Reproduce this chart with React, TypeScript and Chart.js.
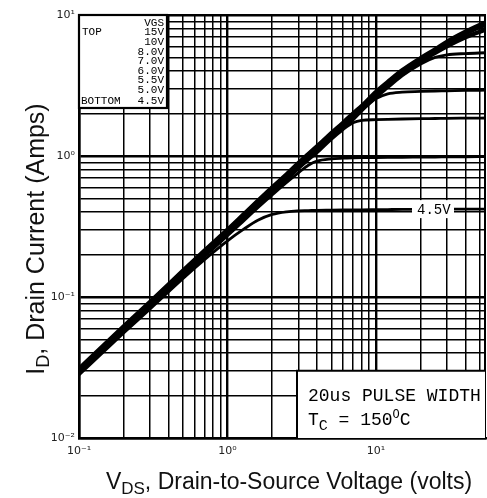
import { useEffect, useRef } from 'react';
import { Chart, registerables } from 'chart.js';

Chart.register(...registerables);

// ---- data ----
const VDS = [0.1, 0.2, 0.3, 0.5, 0.7, 1, 1.3, 1.6, 2, 2.5, 3, 3.5, 4, 5, 6, 7, 8, 10, 12, 15, 20, 25, 30, 40, 55];

const ID_15V = [0.031, 0.062, 0.092, 0.153, 0.213, 0.30, 0.39, 0.48, 0.60, 0.74, 0.89, 1.03, 1.17, 1.45, 1.72, 2.0, 2.26, 2.85, 3.35, 4.05, 4.95, 5.7, 6.45, 7.6, 8.9];
const ID_10V = [0.0305, 0.061, 0.0905, 0.151, 0.21, 0.296, 0.385, 0.473, 0.59, 0.73, 0.875, 1.015, 1.15, 1.43, 1.69, 1.96, 2.22, 2.78, 3.27, 3.95, 4.85, 5.6, 6.3, 7.4, 8.6];
const ID_8V = [0.030, 0.060, 0.089, 0.148, 0.206, 0.29, 0.378, 0.465, 0.58, 0.715, 0.86, 0.995, 1.13, 1.40, 1.66, 1.92, 2.17, 2.7, 3.17, 3.83, 4.7, 5.4, 6.0, 6.95, 7.9];
const ID_7V = [0.0295, 0.059, 0.0875, 0.146, 0.203, 0.286, 0.372, 0.457, 0.57, 0.70, 0.845, 0.98, 1.11, 1.37, 1.62, 1.87, 2.11, 2.6, 3.05, 3.7, 4.5, 5.0, 5.22, 5.33, 5.4];
const ID_6V = [0.029, 0.058, 0.086, 0.143, 0.199, 0.281, 0.365, 0.448, 0.56, 0.69, 0.83, 0.96, 1.09, 1.34, 1.58, 1.8, 2.08, 2.55, 2.76, 2.84, 2.87, 2.89, 2.9, 2.92, 2.93];
const ID_5V5 = [0.0287, 0.0575, 0.085, 0.141, 0.196, 0.277, 0.36, 0.44, 0.55, 0.675, 0.81, 0.935, 1.05, 1.31, 1.54, 1.72, 1.79, 1.81, 1.82, 1.83, 1.84, 1.845, 1.85, 1.855, 1.86];
const ID_5V = [0.0285, 0.057, 0.084, 0.139, 0.193, 0.272, 0.35, 0.43, 0.53, 0.65, 0.76, 0.86, 0.92, 0.955, 0.965, 0.97, 0.973, 0.976, 0.978, 0.98, 0.982, 0.984, 0.985, 0.987, 0.99];
const ID_4V5 = [0.028, 0.0555, 0.082, 0.135, 0.184, 0.25, 0.305, 0.35, 0.385, 0.402, 0.408, 0.41, 0.412, 0.413, 0.414, 0.415, 0.415, 0.416, 0.417, 0.418, 0.418, 0.419, 0.42, 0.42, 0.42];

const SERIES = [ID_15V, ID_10V, ID_8V, ID_7V, ID_6V, ID_5V5, ID_5V, ID_4V5];
const VGS_LABELS = ['15V', '10V', '8.0V', '7.0V', '6.0V', '5.5V', '5.0V', '4.5V'];

const X_GRID = [0.1, 0.2, 0.3, 0.4, 0.5, 0.6, 0.7, 0.8, 0.9, 1, 2, 3, 4, 5, 6, 7, 8, 9, 10, 20, 30, 40, 50];
const Y_GRID = [0.01, 0.02, 0.03, 0.04, 0.05, 0.06, 0.07, 0.08, 0.09, 0.1, 0.2, 0.3, 0.4, 0.5, 0.6, 0.7, 0.8, 0.9, 1, 2, 3, 4, 5, 6, 7, 8, 9, 10];
const X_TICK_VALUES = [0.1, 1, 10];
const X_TICK_LABELS = ['10\u207B\u00B9', '10\u2070', '10\u00B9'];
const Y_TICK_VALUES = [0.01, 0.1, 1, 10];
const Y_TICK_LABELS = ['10\u207B\u00B2', '10\u207B\u00B9', '10\u2070', '10\u00B9'];
const X_MIN = 0.1;
const X_MAX = 55;
const Y_MIN = 0.01;
const Y_MAX = 10;

const isMajor = (v: number) => {
  const l = Math.log10(v);
  return Math.abs(l - Math.round(l)) < 1e-6;
};

const labelFor = (values: number[], labels: string[]) => (v: any) => {
  const n = Number(v);
  const i = values.findIndex((t) => Math.abs(t - n) / t < 1e-6);
  return i >= 0 ? labels[i] : '';
};

type Run = { text: string; size: number; dy: number; family: string };

function runsWidth(ctx: CanvasRenderingContext2D, runs: Run[]) {
  let w = 0;
  for (const r of runs) {
    ctx.font = `${r.size}px ${r.family}`;
    w += ctx.measureText(r.text).width;
  }
  return w;
}

function drawRuns(ctx: CanvasRenderingContext2D, runs: Run[], x: number, y: number) {
  let cx = x;
  ctx.textAlign = 'left';
  ctx.textBaseline = 'alphabetic';
  for (const r of runs) {
    ctx.font = `${r.size}px ${r.family}`;
    ctx.fillText(r.text, cx, y + r.dy);
    cx += ctx.measureText(r.text).width;
  }
}

const SANS = '"Liberation Sans", Arial, sans-serif';
const MONO = '"Liberation Mono", "DejaVu Sans Mono", monospace';

const overlayPlugin = {
  id: 'overlay',
  afterDatasetsDraw(chart: any) {
    const ctx: CanvasRenderingContext2D = chart.ctx;
    const area = chart.chartArea;
    const ys = chart.scales.y;
    ctx.save();
    ctx.fillStyle = '#000';
    ctx.strokeStyle = '#000';

    // right border of plot area
    ctx.lineWidth = 2;
    ctx.beginPath();
    ctx.moveTo(area.right - 1, area.top);
    ctx.lineTo(area.right - 1, area.bottom);
    ctx.stroke();

    // 4.5V label on the lowest curve
    const yLab = ys.getPixelForValue(ID_4V5[ID_4V5.length - 1]);
    ctx.fillStyle = '#fff';
    ctx.fillRect(412, yLab - 9, 42, 18);
    ctx.fillStyle = '#000';
    ctx.font = `14px ${MONO}`;
    ctx.textAlign = 'left';
    ctx.textBaseline = 'middle';
    ctx.fillText(VGS_LABELS[VGS_LABELS.length - 1], 417, yLab + 1);

    // legend box
    const lx = area.left, ly = area.top, lw = 88, lh = 93;
    ctx.fillStyle = '#fff';
    ctx.fillRect(lx, ly, lw, lh);
    ctx.lineWidth = 2.2;
    ctx.strokeRect(lx, ly, lw, lh);
    ctx.fillStyle = '#000';
    ctx.font = `11px ${MONO}`;
    ctx.textBaseline = 'middle';
    ctx.textAlign = 'right';
    const rx = lx + 85;
    ctx.fillText('VGS', rx, ly + 8.5);
    VGS_LABELS.forEach((t, i) => {
      const yy = ly + 17.5 + i * 9.6 + (i === VGS_LABELS.length - 1 ? 1 : 0);
      ctx.fillText(t, rx, yy);
    });
    ctx.textAlign = 'left';
    ctx.fillText('TOP', lx + 3, ly + 17.5);
    ctx.fillText('BOTTOM', lx + 2, ly + 17.5 + 7 * 9.6 + 1);

    // condition box
    const bx = 297, by = ys.getPixelForValue(0.03);
    ctx.fillStyle = '#fff';
    ctx.fillRect(bx, by, area.right - bx - 1, area.bottom - by);
    ctx.lineWidth = 2;
    ctx.beginPath();
    ctx.moveTo(area.right, by);
    ctx.lineTo(bx, by);
    ctx.lineTo(bx, area.bottom);
    ctx.stroke();
    ctx.fillStyle = '#000';
    ctx.font = `18px ${MONO}`;
    ctx.textAlign = 'left';
    ctx.textBaseline = 'alphabetic';
    ctx.fillText('20us PULSE WIDTH', 308, 401);
    drawRuns(ctx, [
      { text: 'T', size: 18, dy: 0, family: MONO },
      { text: 'C', size: 15, dy: 5, family: MONO },
      { text: ' = 150', size: 18, dy: 0, family: MONO },
      { text: 'O', size: 12, dy: -7, family: MONO },
      { text: 'C', size: 18, dy: 0, family: MONO },
    ], 308, 425);
    ctx.restore();
  },
  afterDraw(chart: any) {
    const ctx: CanvasRenderingContext2D = chart.ctx;
    ctx.save();
    ctx.fillStyle = '#111';
    // x title
    const xr: Run[] = [
      { text: 'V', size: 23, dy: 0, family: SANS },
      { text: 'DS', size: 17, dy: 5, family: SANS },
      { text: ', Drain-to-Source Voltage (volts)', size: 23, dy: 0, family: SANS },
    ];
    const xw = runsWidth(ctx, xr);
    drawRuns(ctx, xr, 289 - xw / 2, 489);
    // y title
    const yr: Run[] = [
      { text: 'I', size: 25, dy: 0, family: SANS },
      { text: 'D', size: 18, dy: 5, family: SANS },
      { text: ', Drain Current (Amps)', size: 25, dy: 0, family: SANS },
    ];
    const yw = runsWidth(ctx, yr);
    ctx.translate(44, 239);
    ctx.rotate(-Math.PI / 2);
    drawRuns(ctx, yr, -yw / 2, 0);
    ctx.restore();
  },
};

export default function App() {
  const ref = useRef<HTMLCanvasElement | null>(null);
  useEffect(() => {
    document.body.style.margin = '0';
    const canvas = ref.current;
    if (!canvas) return;
    const datasets = SERIES.map((s, i) => ({
      label: VGS_LABELS[i],
      data: VDS.map((x, j) => ({ x, y: s[j] })),
      borderColor: '#000',
      borderWidth: i < 3 ? 4.4 : 2.8,
      pointRadius: 0,
      fill: false,
      cubicInterpolationMode: 'monotone' as const,
    }));
    const gridWidth = (c: any) => (c.tick && isMajor(c.tick.value) ? 2.4 : 1.5);
    const chart = new Chart(canvas, {
      type: 'line',
      data: { datasets },
      options: {
        animation: false,
        responsive: false,
        maintainAspectRatio: false,
        devicePixelRatio: 1,
        layout: { padding: { top: 15, right: 1, left: 0, bottom: 0 } },
        plugins: { legend: { display: false }, tooltip: { enabled: false } },
        scales: {
          x: {
            type: 'logarithmic',
            min: X_MIN,
            max: X_MAX,
            afterBuildTicks: (s: any) => { s.ticks = X_GRID.map((v) => ({ value: v })); },
            afterFit: (s: any) => { s.height = 60; },
            ticks: {
              autoSkip: false,
              maxRotation: 0,
              minRotation: 0,
              padding: 7,
              color: '#222',
              font: { family: '"DejaVu Sans", sans-serif', size: 11 },
              callback: labelFor(X_TICK_VALUES, X_TICK_LABELS),
            },
            grid: { color: '#000', lineWidth: gridWidth, drawTicks: false },
            border: { display: true, color: '#000', width: 2.5 },
          },
          y: {
            type: 'logarithmic',
            min: Y_MIN,
            max: Y_MAX,
            afterBuildTicks: (s: any) => { s.ticks = Y_GRID.map((v) => ({ value: v })); },
            afterFit: (s: any) => { s.width = 79; },
            ticks: {
              autoSkip: false,
              padding: 4,
              color: '#222',
              font: { family: '"DejaVu Sans", sans-serif', size: 11 },
              callback: labelFor(Y_TICK_VALUES, Y_TICK_LABELS),
            },
            grid: { color: '#000', lineWidth: gridWidth, drawTicks: false },
            border: { display: true, color: '#000', width: 2.5 },
          },
        },
      },
      plugins: [overlayPlugin],
    });
    return () => chart.destroy();
  }, []);
  return (
    <div style={{ width: 487, height: 498 }}>
      <canvas ref={ref} width={487} height={498} style={{ display: 'block' }} />
    </div>
  );
}
